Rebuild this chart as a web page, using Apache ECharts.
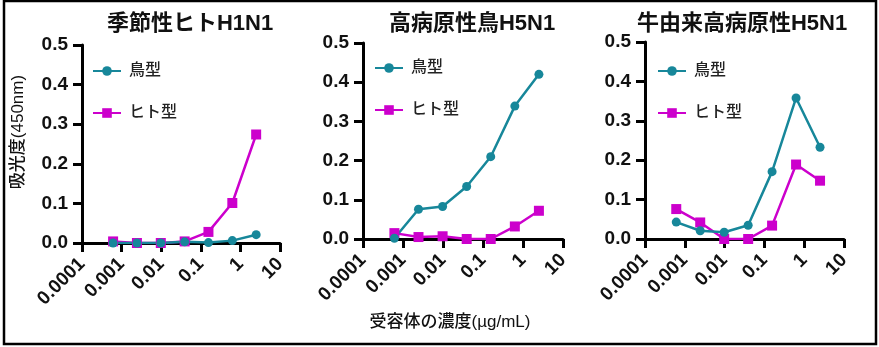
<!DOCTYPE html>
<html>
<head>
<meta charset="utf-8">
<script src="https://cdn.jsdelivr.net/npm/echarts@6/dist/echarts.min.js"></script>
<style>
html,body{margin:0;padding:0;background:#fff;}
#c{width:879px;height:347px;}
</style>
</head>
<body>
<div id="c"></div>
<script>
// Data
const concentrations = [0.00061, 0.00244, 0.00977, 0.0391, 0.156, 0.625, 2.5];
const panelTitles = ['季節性ヒトH1N1', '高病原性鳥H5N1', '牛由来高病原性H5N1'];
const seriesNames = ['鳥型', 'ヒト型'];
const xTickLabels = ['0.0001', '0.001', '0.01', '0.1', '1', '10'];
const yTickLabels = ['0.0', '0.1', '0.2', '0.3', '0.4', '0.5'];
const birdH1N1 = [0.000, 0.000, 0.000, 0.003, 0.001, 0.006, 0.021];
const humanH1N1 = [0.004, 0.000, 0.000, 0.004, 0.028, 0.101, 0.274];
const birdH5N1 = [0.002, 0.076, 0.083, 0.134, 0.210, 0.339, 0.420];
const humanH5N1 = [0.015, 0.005, 0.007, 0.000, 0.000, 0.032, 0.072];
const birdBovine = [0.043, 0.021, 0.017, 0.035, 0.171, 0.358, 0.233];
const humanBovine = [0.076, 0.042, 0.000, 0.000, 0.034, 0.189, 0.148];
const yAxisName = '吸光度(450nm)';
const xAxisName = '受容体の濃度(µg/mL)';

const birdSets = [birdH1N1, birdH5N1, birdBovine];
const humanSets = [humanH1N1, humanH5N1, humanBovine];

const TEAL = '#17879a';
const MAGENTA = '#cc00cc';
const FONT = '"Liberation Sans", "Noto Sans CJK JP", sans-serif';

const grids = [
  {left: 82, top: 45, width: 198, height: 198},
  {left: 363, top: 43, width: 200, height: 196},
  {left: 645, top: 42, width: 199, height: 197}
];
const titleCenters = [185, 467, 737];
const legendPos = [{left: 87, top: 58}, {left: 369, top: 55}, {left: 652, top: 58}];

const pair = (xs, ys) => xs.map((x, i) => [x, ys[i]]);

const option = {
  animation: false,
  backgroundColor: '#fff',
  textStyle: {fontFamily: FONT},
  title: panelTitles.map((t, i) => ({
    text: t,
    left: titleCenters[i],
    top: 8,
    textAlign: 'center',
    textStyle: {fontFamily: FONT, fontSize: 22, fontWeight: 'bold', color: '#111'}
  })),
  legend: legendPos.map(p => ({
    data: seriesNames,
    orient: 'vertical',
    left: p.left,
    top: p.top,
    itemWidth: 28,
    itemHeight: 12,
    itemGap: 26,
    selectedMode: false,
    textStyle: {fontFamily: FONT, fontSize: 16, fontWeight: 500, color: '#222', padding: [0, 0, 0, 3]}
  })),
  grid: grids,
  xAxis: grids.map((g, i) => ({
    type: 'log',
    gridIndex: i,
    logBase: 10,
    min: 0.0001,
    max: 10,
    splitNumber: 5,
    axisLine: {show: true, lineStyle: {color: '#000', width: 3}},
    axisTick: {show: true, inside: false, length: 9, lineStyle: {color: '#000', width: 3}},
    minorTick: {show: false},
    splitLine: {show: false},
    axisLabel: {
      rotate: 45,
      margin: 18,
      fontFamily: FONT,
      fontSize: 19,
      fontWeight: 'bold',
      color: '#111',
      formatter: v => xTickLabels[Math.round(Math.log10(v)) + 4]
    }
  })),
  yAxis: grids.map((g, i) => ({
    type: 'value',
    gridIndex: i,
    min: 0,
    max: 0.5,
    interval: 0.1,
    axisLine: {show: true, lineStyle: {color: '#000', width: 3}},
    axisTick: {show: true, length: 9, lineStyle: {color: '#000', width: 3}},
    splitLine: {show: false},
    axisLabel: {
      margin: 14,
      fontFamily: FONT,
      fontSize: 19,
      fontWeight: 'bold',
      color: '#111',
      formatter: v => yTickLabels[Math.round(v * 10)]
    }
  })),
  series: [],
  graphic: [
    {
      type: 'rect',
      shape: {x: 4, y: 1, width: 872, height: 343},
      style: {fill: 'none', stroke: '#000', lineWidth: 2.5},
      silent: true
    },
    {
      type: 'text',
      x: 18, y: 132,
      rotation: Math.PI / 2,
      style: {text: yAxisName, fontFamily: FONT, fontSize: 17, fontWeight: 500, fill: '#111', align: 'center', verticalAlign: 'middle'}
    },
    {
      type: 'text',
      x: 450, y: 322,
      style: {text: xAxisName, fontFamily: FONT, fontSize: 17, fontWeight: 500, fill: '#111', align: 'center', verticalAlign: 'middle'}
    }
  ]
};

for (let i = 0; i < 3; i++) {
  option.series.push({
    name: seriesNames[1],
    type: 'line',
    xAxisIndex: i, yAxisIndex: i,
    data: pair(concentrations, humanSets[i]),
    symbol: 'rect', symbolSize: 10,
    lineStyle: {color: MAGENTA, width: 2.5},
    itemStyle: {color: MAGENTA},
    color: MAGENTA
  });
  option.series.push({
    name: seriesNames[0],
    type: 'line',
    xAxisIndex: i, yAxisIndex: i,
    data: pair(concentrations, birdSets[i]),
    symbol: 'circle', symbolSize: 9,
    lineStyle: {color: TEAL, width: 2.5},
    itemStyle: {color: TEAL},
    color: TEAL
  });
}

const chart = echarts.init(document.getElementById('c'), null, {renderer: 'canvas'});
chart.setOption(option);
</script>
</body>
</html>
